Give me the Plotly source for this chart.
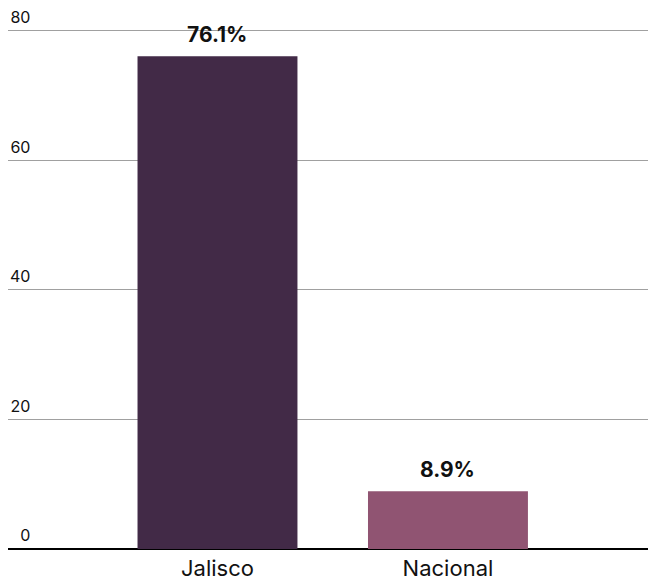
import plotly.graph_objects as go

categories = ["Jalisco", "Nacional"]
values = [76.1, 8.9]
labels = ["76.1%", "8.9%"]
colors = ["#422a47", "#905472"]
y_ticks = [0, 20, 40, 60, 80]

FONT = "Inter, Lato, 'Noto Sans', sans-serif"

fig = go.Figure()
fig.add_trace(go.Bar(
    x=[0, 1], y=values, marker=dict(color=colors, line=dict(width=0)),
    width=0.694, hoverinfo="skip", showlegend=False,
))

for i, (v, t) in enumerate(zip(values, labels)):
    fig.add_annotation(x=i, y=v, text=f"<b>{t}</b>", showarrow=False,
                       yanchor="bottom", yshift=7,
                       font=dict(family=FONT, size=21, color="#111111"))

fig.update_layout(
    width=648, height=582,
    margin=dict(l=8, r=0, t=29, b=33, autoexpand=False),
    paper_bgcolor="white", plot_bgcolor="white",
    font=dict(family=FONT, color="#111111"),
    xaxis=dict(
        range=[-0.909, 1.868], tickmode="array", tickvals=[0, 1], ticktext=categories,
        showgrid=False, zeroline=False, showline=False, ticks="",
        ticklabelstandoff=4,
        tickfont=dict(family=FONT, size=22, color="#111111"), automargin=False,
    ),
    yaxis=dict(
        range=[0, 80.3], tickmode="array", tickvals=y_ticks,
        showgrid=True, gridcolor="#a0a0a0", gridwidth=1,
        zeroline=True, zerolinecolor="#000000", zerolinewidth=2,
        showline=False, ticks="", anchor="free", position=0.035,
        ticklabelposition="outside top", ticklabeloverflow="allow",
        ticklabelshift=-2,
        tickfont=dict(family=FONT, size=16, color="#111111"), automargin=False,
    ),
)

fig.write_html("out.html")
